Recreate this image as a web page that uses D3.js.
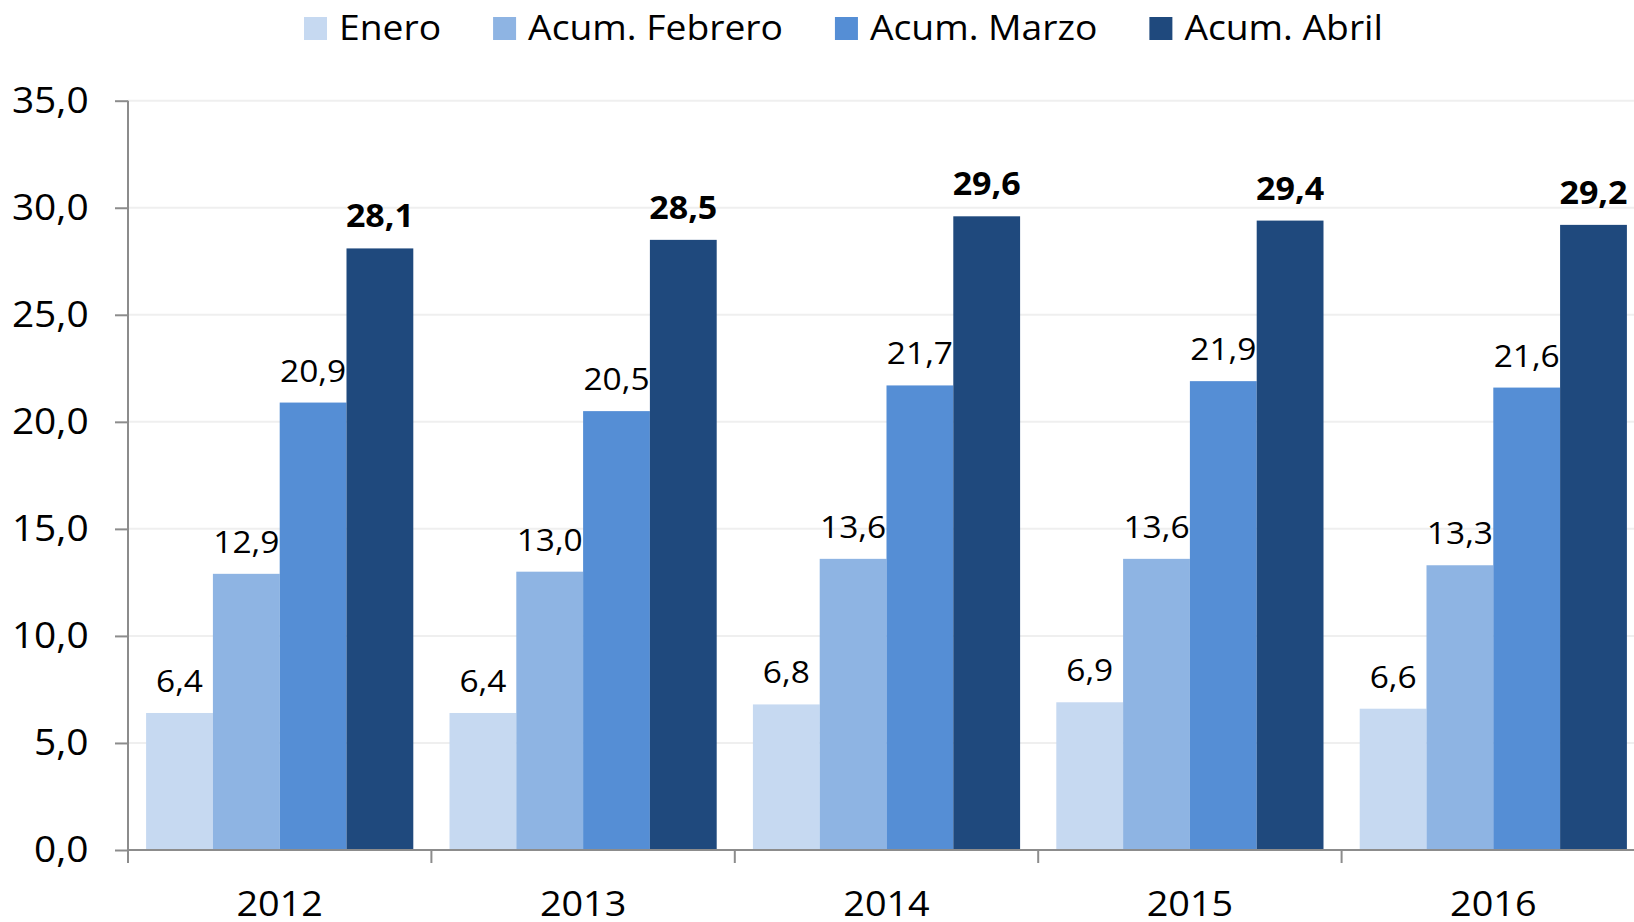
<!DOCTYPE html>
<html>
<head>
<meta charset="utf-8">
<script src="https://cdn.jsdelivr.net/npm/d3@7"></script>
<style>
  html, body { margin: 0; padding: 0; background: #ffffff; }
  svg { display: block; }
  text { font-family: "Open Sans", "Noto Sans", sans-serif; fill: #000; }
</style>
</head>
<body>
<svg id="chart" width="1634" height="922"></svg>
<script>
// Years on the category axis
const years = ["2012", "2013", "2014", "2015", "2016"];
// Series names (legend order)
const seriesNames = ["Enero", "Acum. Febrero", "Acum. Marzo", "Acum. Abril"];
// Cumulative values per series, one per year
const enero   = [6.4, 6.4, 6.8, 6.9, 6.6];
const febrero = [12.9, 13.0, 13.6, 13.6, 13.3];
const marzo   = [20.9, 20.5, 21.7, 21.9, 21.6];
const abril   = [28.1, 28.5, 29.6, 29.4, 29.2];
// Value axis ticks
const yTicks = [0, 5, 10, 15, 20, 25, 30, 35];

const seriesValues = [enero, febrero, marzo, abril];
const colors = ["#C6D9F1", "#8EB4E3", "#558ED5", "#1F497D"];
const boldLabel = [false, false, false, true];

const locale = d3.formatLocale({ decimal: ",", thousands: ".", grouping: [3], currency: ["", "€"] });
const fmt = locale.format(".1f");

// Text is drawn slightly widened, as in the original office chart
const sx = 1.08;
const placeText = (sel, fx, fy) => sel.attr("x", 0).attr("y", 0)
  .attr("transform", (d, i) => `translate(${fx(d, i)},${fy(d, i)}) scale(${sx},1)`);

const svg = d3.select("#chart");
const W = 1634;
const plotLeft = 128, plotTop = 100.7, plotBottom = 850;
const step = 303.4;

const x0 = d3.scaleBand().domain(years).range([plotLeft, plotLeft + step * years.length]).paddingInner(0).paddingOuter(0);
const x1 = d3.scaleBand().domain(seriesNames).range([0, x0.bandwidth()]).paddingInner(0).paddingOuter(0.271);
const y = d3.scaleLinear().domain([0, 35]).range([plotBottom, plotTop]);

// Horizontal gridlines
svg.append("g").selectAll("line").data(yTicks.filter(d => d > 0)).join("line")
  .attr("x1", plotLeft).attr("x2", W)
  .attr("y1", d => y(d)).attr("y2", d => y(d))
  .attr("stroke", "#EFEFEF").attr("stroke-width", 2);

// Bars
const groups = svg.append("g").selectAll("g").data(years).join("g")
  .attr("transform", d => `translate(${x0(d)},0)`);

const cells = (yr, i) => seriesNames.map((s, k) => ({ s, k, v: seriesValues[k][i] }));

groups.selectAll("rect").data(cells)
  .join("rect")
  .attr("x", d => x1(d.s))
  .attr("width", x1.bandwidth())
  .attr("y", d => y(d.v))
  .attr("height", d => y(0) - y(d.v))
  .attr("fill", d => colors[d.k]);

// Value labels
groups.selectAll("text").data(cells)
  .join("text")
  .call(placeText, d => x1(d.s) + x1.bandwidth() / 2, d => y(d.v) - 21)
  .attr("text-anchor", "middle")
  .attr("font-size", d => boldLabel[d.k] ? 31.5 : 31)
  .attr("font-weight", d => boldLabel[d.k] ? 700 : 400)
  .text(d => fmt(d.v));

// Y axis
const yAxis = d3.axisLeft(y).tickValues(yTicks).tickFormat(fmt).tickSize(13).tickPadding(26);
const gy = svg.append("g").attr("transform", `translate(${plotLeft},0)`).call(yAxis);
gy.select(".domain").attr("stroke", "#8C8C8C").attr("stroke-width", 2).attr("d", `M0,${plotTop}V${plotBottom}`);
gy.selectAll(".tick line").attr("stroke", "#8C8C8C").attr("stroke-width", 2);
gy.selectAll(".tick text")
  .attr("x", -39.4 / sx)
  .attr("transform", `scale(${sx},1)`)
  .attr("font-size", 36).attr("font-family", "Open Sans").attr("fill", "#000");

// X axis
const gx = svg.append("g").attr("transform", `translate(0,${plotBottom})`);
gx.append("line").attr("x1", plotLeft).attr("x2", W).attr("y1", 0).attr("y2", 0)
  .attr("stroke", "#8C8C8C").attr("stroke-width", 2);
gx.selectAll("line.sep").data(d3.range(years.length + 1)).join("line").attr("class", "sep")
  .attr("x1", i => plotLeft + i * x0.step()).attr("x2", i => plotLeft + i * x0.step())
  .attr("y1", 0).attr("y2", 13)
  .attr("stroke", "#8C8C8C").attr("stroke-width", 2);
gx.selectAll("text").data(years).join("text")
  .call(placeText, d => x0(d) + x0.bandwidth() / 2, () => 66)
  .attr("text-anchor", "middle")
  .attr("font-size", 35)
  .text(d => d);

// Legend
const legend = svg.append("g");
let lx = 304;
seriesNames.forEach((name, k) => {
  const g = legend.append("g").attr("transform", `translate(${lx},0)`);
  g.append("rect").attr("x", 0).attr("y", 17).attr("width", 23).attr("height", 23).attr("fill", colors[k]);
  const t = g.append("text").datum(name)
    .call(placeText, () => 35, () => 40)
    .attr("font-size", 34.5).text(name);
  lx += 35 + t.node().getComputedTextLength() * sx + 52;
});
</script>
</body>
</html>
